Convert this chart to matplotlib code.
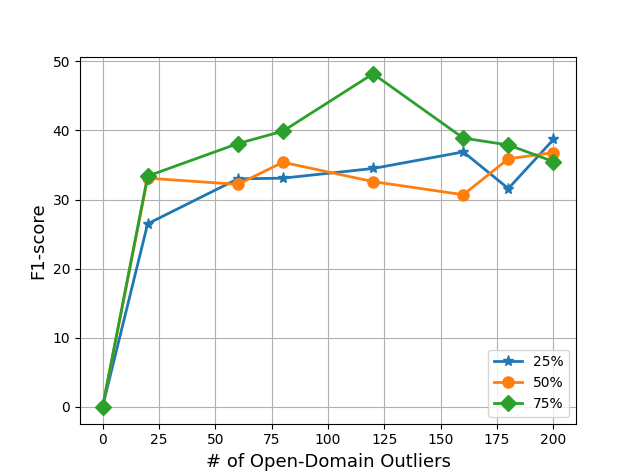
import matplotlib
matplotlib.use("Agg")
import matplotlib.pyplot as plt

outliers = [0, 20, 60, 80, 120, 160, 180, 200]
f1_25 = [0, 26.5, 33.0, 33.1, 34.5, 36.9, 31.6, 38.7]
f1_50 = [0, 33.1, 32.2, 35.4, 32.6, 30.7, 35.9, 36.8]
f1_75 = [0, 33.4, 38.1, 39.9, 48.2, 38.9, 37.9, 35.5]

fig, ax = plt.subplots(figsize=(6.4, 4.76), dpi=100)
ax.plot(outliers, f1_25, marker='*', markersize=8, linewidth=2, label='25%')
ax.plot(outliers, f1_50, marker='o', markersize=8, linewidth=2, label='50%')
ax.plot(outliers, f1_75, marker='D', markersize=8, linewidth=2, label='75%')

ax.set_xlabel('# of Open-Domain Outliers', fontsize=13)
ax.set_ylabel('F1-score', fontsize=13)
ax.grid(True)
ax.legend(loc='lower right')

plt.savefig("out.png")
